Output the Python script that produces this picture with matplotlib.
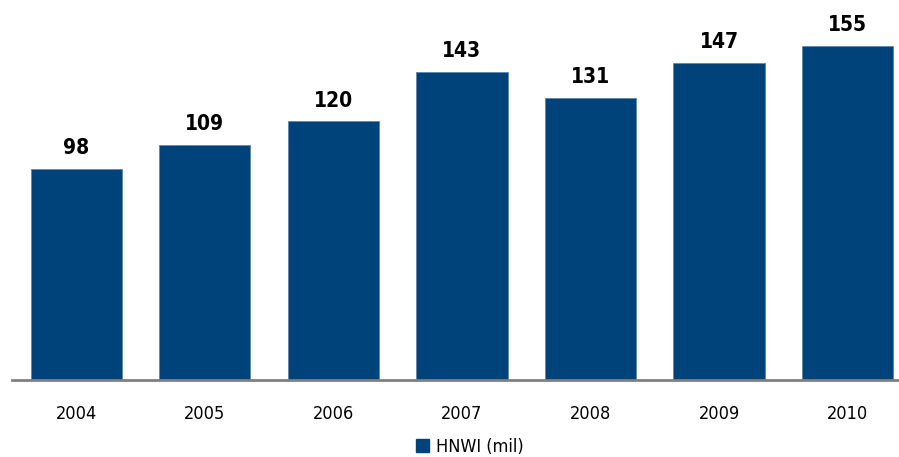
import matplotlib.pyplot as plt
from matplotlib.patches import Patch

years = ['2004', '2005', '2006', '2007', '2008', '2009', '2010']
hnwi = [98, 109, 120, 143, 131, 147, 155]

bar_color = '#00427A'
plt.rcParams['font.family'] = ['DejaVu Sans']
plt.rcParams['font.stretch'] = 'condensed'

fig = plt.figure(figsize=(8.99, 4.57), dpi=100)
ax = fig.add_axes([12 / 899, 1 - 380 / 457, 1 - 12 / 899, 380 / 457])

x = list(range(len(years)))
bars = ax.bar(x, hnwi, width=0.71, color=bar_color, edgecolor='#5A86AE', linewidth=0.6)

for xi, v in zip(x, hnwi):
    ax.text(xi, v + 5, str(v), ha='center', va='bottom', fontsize=15, fontweight='bold', color='black')

ax.set_xlim(-0.5, 6.4)
ax.set_ylim(0, 380 / 2.155)
ax.set_yticks([])
ax.set_xticks(x)
ax.set_xticklabels(years, fontsize=13)
ax.tick_params(axis='x', length=0, pad=18)
for s in ['top', 'right', 'left']:
    ax.spines[s].set_visible(False)
ax.spines['bottom'].set_color('#808080')
ax.spines['bottom'].set_linewidth(2)

handle = Patch(facecolor=bar_color, edgecolor=bar_color)
fig.legend([handle], ['HNWI (mil)'], loc='center', bbox_to_anchor=(470 / 899, 1 - 447 / 457),
           frameon=False, fontsize=13, handlelength=0.7, handleheight=0.7, handletextpad=0.4)

fig.savefig('out.png', dpi=100)
